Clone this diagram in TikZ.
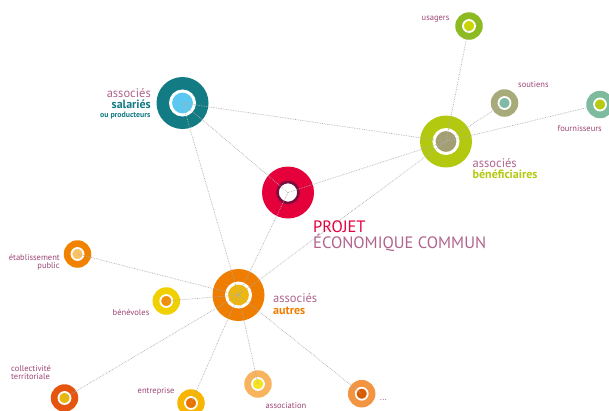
\documentclass[tikz,border=0pt]{standalone}
\usepackage{fontspec}
\setmainfont{PT Sans}
\usetikzlibrary{positioning}

% Colours
\definecolor{mauve}{HTML}{9D4575}
\definecolor{mauvelight}{HTML}{B0648D}
\definecolor{teal}{HTML}{137B83}
\definecolor{sky}{HTML}{5AC8F0}
\definecolor{lime}{HTML}{B3C90F}
\definecolor{olive}{HTML}{A39F72}
\definecolor{crimson}{HTML}{E5003C}
\definecolor{wine}{HTML}{7A0F3F}
\definecolor{orange}{HTML}{EF7D00}
\definecolor{gold}{HTML}{EFB70A}
\definecolor{usaout}{HTML}{8DBA21}
\definecolor{usain}{HTML}{C9D600}
\definecolor{souout}{HTML}{A6AB79}
\definecolor{souin}{HTML}{7FBBA4}
\definecolor{fouout}{HTML}{7EBB9E}
\definecolor{fouin}{HTML}{B6CC0D}
\definecolor{etaout}{HTML}{F08200}
\definecolor{etain}{HTML}{F8C164}
\definecolor{bevout}{HTML}{F0D000}
\definecolor{bevin}{HTML}{F0900A}
\definecolor{colout}{HTML}{E6550F}
\definecolor{colin}{HTML}{E9B90A}
\definecolor{entout}{HTML}{F7B500}
\definecolor{entin}{HTML}{E97200}
\definecolor{assout}{HTML}{F7B35E}
\definecolor{assin}{HTML}{F7E21E}
\definecolor{etcout}{HTML}{F29440}
\definecolor{etcin}{HTML}{D95C00}

\tikzset{hub/.style={circle, inner sep=0pt, minimum size=52pt}}
\tikzset{hubcore/.style={circle, inner sep=0pt, minimum size=24pt, draw=white, line width=3pt}}
\tikzset{leaf/.style={circle, inner sep=0pt, minimum size=27.5pt}}
\tikzset{leafcore/.style={circle, inner sep=0pt, minimum size=12pt, draw=white, line width=1.8pt}}
\tikzset{link/.style={black!32, densely dotted, line width=0.7pt}}
\tikzset{tag/.style={inner sep=0pt, text=mauve, font=\fontsize{8.5}{9}\selectfont}}
\tikzset{head/.style={inner sep=0pt, text=mauvelight, font=\fontsize{12.5}{13}\selectfont}}
\tikzset{kind/.style={inner sep=0pt, font=\fontsize{12}{13}\selectfont\bfseries}}
\newcommand{\leafnode}[3]{\node[leaf, fill=#1out] (#1) at (#2) {};
 \node[leafcore, fill=#1in] (#1core) at (#1) {};
 \node[tag, #3]}

\begin{document}
\begin{tikzpicture}[x=1pt, y=-1pt]
		\useasboundingbox (0,0) rectangle (609,410);

		% Hubs
		\node[hub, fill=teal] (sal) at (182.5,103) {};
		\node[hubcore, fill=sky] (salcore) at (sal) {};
		\node[hub, fill=lime] (ben) at (446,141.5) {};
		\node[hubcore, fill=olive] (bencore) at (ben) {};
		\node[hub, fill=crimson] (proj) at (288,192.5) {};
		\node[circle, inner sep=0pt, minimum size=21pt, draw=wine, fill=white, line width=2.6pt] (projcore) at (proj) {};
		\node[hub, fill=orange] (aut) at (238.5,295) {};
		\node[hubcore, fill=gold] (autcore) at (aut) {};

		% Leaves
		\leafnode{usa}{469,26}{anchor=base west} (usatag) at (421.5,20) {usagers};
		\leafnode{sou}{504.5,103}{anchor=base west} (soutag) at (518,87) {soutiens};
		\leafnode{fou}{600,104.5}{anchor=base west} (foutag) at (557.5,131) {fournisseurs};
		\leafnode{eta}{77.5,254}{anchor=base east, align=right} (etatag) at (60,268) {établissement\\[-1.5pt]public};
		\leafnode{bev}{166.3,301}{anchor=base west} (bevtag) at (112.5,315) {bénévoles};
		\leafnode{col}{64.5,398}{anchor=base west, align=left} (coltag) at (11,379) {collectivité\\[-1.5pt]territoriale};
		\leafnode{ent}{191,403}{anchor=base west} (enttag) at (137.5,393) {entreprise};
		\leafnode{ass}{258,384}{anchor=base west} (asstag) at (265.5,408) {association};
		\leafnode{etc}{361.7,393.7}{anchor=base west} (etctag) at (380,400) {...};

		% Links
		\foreach \a/\b in {sal/ben, sal/proj, sal/aut, proj/ben, proj/aut, ben/aut, ben/usa, ben/sou, ben/fou,
			aut/eta, aut/bev, aut/col, aut/ent, aut/ass, aut/etc}
			\draw[link] (\a.center) -- (\b.center);

		% Labels
		\node[head, anchor=base east] (salhead) at (151,97) {associés};
		\node[kind, anchor=base east, text=teal] (salkind) at (151,108.5) {salariés};
		\node[inner sep=0pt, anchor=base east, text=teal, font=\fontsize{7.8}{8}\selectfont\bfseries] (salnote) at (150.5,117) {ou producteurs};
		\node[head, anchor=base west] (benhead) at (472.5,167) {associés};
		\node[kind, anchor=base west, text=lime] (benkind) at (472.5,178) {bénéficiaires};
		\node[inner sep=0pt, anchor=base west, text=crimson, font=\fontsize{16.5}{17}\selectfont] (projhead) at (313,232) {PROJET};
		\node[inner sep=0pt, anchor=base west, text=mauvelight, font=\fontsize{16.5}{17}\selectfont] (projkind) at (313,248.5) {ÉCONOMIQUE COMMUN};
		\node[head, anchor=base west] (authead) at (273,302.5) {associés};
		\node[kind, anchor=base west, text=orange] (autkind) at (273,314) {autres};
	\end{tikzpicture}
\end{document}
